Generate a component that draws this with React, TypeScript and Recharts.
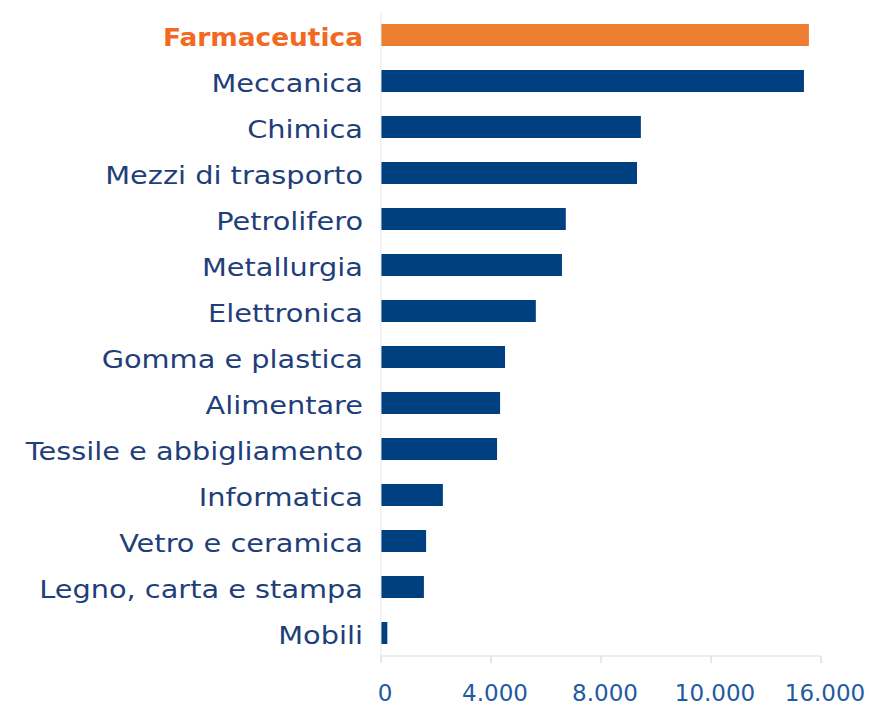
import { Bar, BarChart, Cell, XAxis, YAxis } from "recharts";

const categories = [
  "Farmaceutica",
  "Meccanica",
  "Chimica",
  "Mezzi di trasporto",
  "Petrolifero",
  "Metallurgia",
  "Elettronica",
  "Gomma e plastica",
  "Alimentare",
  "Tessile e abbigliamento",
  "Informatica",
  "Vetro e ceramica",
  "Legno, carta e stampa",
  "Mobili",
];

const values = [15560, 15380, 9450, 9310, 6720, 6580, 5630, 4510, 4330, 4220, 2250, 1640, 1560, 230];

const tickValues = [0, 4000, 8000, 12000, 16000];
const tickLabels = ["0", "4.000", "8.000", "10.000", "16.000"];

const highlight = "Farmaceutica";

const ORANGE = "#ED7D31";
const NAVY = "#003F80";
const ORANGE_TEXT = "#F26A21";
const NAVY_TEXT = "#1F3F7A";
const AXIS_TEXT = "#1F5AA3";

const data = categories.map((name, i) => ({ name, value: values[i] }));

// labels in the picture are drawn wider than the font, so stretch them
const YTick = (props: any) => {
  const { x, y, payload } = props;
  const hl = payload.value === highlight;
  return (
    <g transform={`translate(${x - 10},${y + 11}) scale(${hl ? 1.1 : 1.2},1)`}>
      <text
        x={0}
        y={0}
        textAnchor="end"
        fontFamily="DejaVu Sans"
        fontSize={24}
        fontWeight={hl ? 700 : 400}
        fill={hl ? ORANGE_TEXT : NAVY_TEXT}
      >
        {payload.value}
      </text>
    </g>
  );
};

const XTick = (props: any) => {
  const { x, y, payload, index } = props;
  return (
    <text
      x={x + 4}
      y={y + 36}
      textAnchor="middle"
      fontFamily="DejaVu Sans"
      fontSize={23}
      fill={AXIS_TEXT}
    >
      {tickLabels[index] ?? payload.value}
    </text>
  );
};

export default function App() {
  return (
    <div style={{ position: "absolute", left: 0, top: 0, background: "#fff" }}>
      <BarChart
        width={869}
        height={708}
        data={data}
        layout="vertical"
        margin={{ top: 12, right: 48, left: 0, bottom: 0 }}
        barSize={22}
      >
        <XAxis
          type="number"
          domain={[0, 16000]}
          ticks={tickValues}
          interval={0}
          height={52}
          axisLine={{ stroke: "#dddddd" }}
          tickLine={{ stroke: "#d0d0d0" }}
          tickSize={7}
          tick={<XTick />}
        />
        <YAxis
          type="category"
          dataKey="name"
          width={381}
          interval={0}
          axisLine={{ stroke: "#e6e6e6" }}
          tickLine={false}
          tick={<YTick />}
        />
        <Bar dataKey="value" isAnimationActive={false}>
          {data.map((d) => (
            <Cell key={d.name} fill={d.name === highlight ? ORANGE : NAVY} />
          ))}
        </Bar>
      </BarChart>
    </div>
  );
}
